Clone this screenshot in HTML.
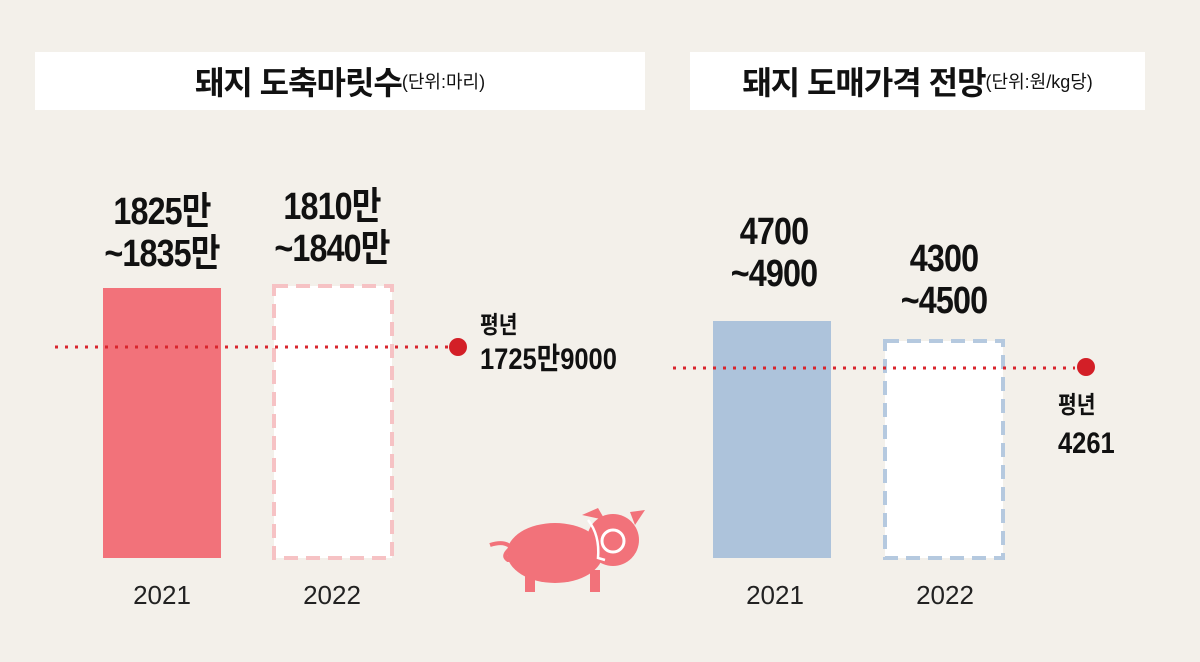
<!DOCTYPE html>
<html><head><meta charset="utf-8"><style>
body{margin:0;width:1200px;height:662px;background:#f3f0ea;position:relative;overflow:hidden;font-family:"Liberation Sans","Noto Sans CJK KR",sans-serif;color:#111}
.box{position:absolute;background:#fff;top:52px;height:58px;display:flex;align-items:center;justify-content:center;font-weight:bold;font-size:32px;letter-spacing:-1px}
.box small{font-weight:normal;font-size:18px;letter-spacing:0}
.t{position:absolute;text-align:center;font-size:38px;line-height:42px;font-weight:bold;letter-spacing:-1px;transform:scaleX(0.85)}
.y{position:absolute;font-size:26px;width:120px;text-align:center;color:#222}
.s{position:absolute;font-size:30px;line-height:36px;font-weight:bold;transform:scaleX(0.85);transform-origin:left}
</style></head><body>
<div class="box" style="left:35px;width:610px">돼지 도축마릿수<small>(단위:마리)</small></div>
<div class="box" style="left:690px;width:455px">돼지 도매가격 전망<small>(단위:원/kg당)</small></div>
<svg width="1200" height="662" style="position:absolute;left:0;top:0">
<rect x="103" y="288" width="118" height="270" fill="#f2727a"/>
<rect x="274" y="286" width="118" height="272" fill="#fff" stroke="#f6c2c4" stroke-width="4" stroke-dasharray="14,8"/>
<line x1="55" y1="347" x2="450" y2="347" stroke="#d9262e" stroke-width="3" stroke-dasharray="3,7"/>
<circle cx="458" cy="347" r="9" fill="#d31f27"/>
<rect x="713" y="321" width="118" height="237" fill="#adc3db"/>
<rect x="885" y="341" width="118" height="217" fill="#fff" stroke="#b5c9df" stroke-width="4" stroke-dasharray="14,8"/>
<line x1="673" y1="368" x2="1075" y2="368" stroke="#d9262e" stroke-width="3" stroke-dasharray="3,7"/>
<circle cx="1086" cy="367" r="9" fill="#d31f27"/>
<g fill="#f2727a">
<ellipse cx="555" cy="553" rx="48" ry="30"/>
<circle cx="613" cy="540" r="26"/>
<path d="M582 515 L598 508 L605 520 Z M630 512 L645 510 L635 525 Z"/>
<rect x="525" y="570" width="10" height="22"/><rect x="590" y="570" width="10" height="22"/>
</g>
<path d="M490 545 Q505 540 512 548 Q518 560 508 560 Q500 555 515 545" fill="none" stroke="#f2727a" stroke-width="4"/>
<circle cx="613" cy="541" r="11" fill="#f2727a" stroke="#fff" stroke-width="3"/>
<path d="M588 520 Q600 535 598 558 L605 560" fill="none" stroke="#fff" stroke-width="2.5"/>
</svg>
<div class="t" style="left:72px;width:180px;top:191px">1825만<br>~1835만</div>
<div class="t" style="left:242px;width:180px;top:186px">1810만<br>~1840만</div>
<div class="t" style="left:684px;width:180px;top:211px">4700<br>~4900</div>
<div class="t" style="left:854px;width:180px;top:238px">4300<br>~4500</div>
<div class="y" style="left:102px;top:580px">2021</div>
<div class="y" style="left:272px;top:580px">2022</div>
<div class="y" style="left:715px;top:580px">2021</div>
<div class="y" style="left:885px;top:580px">2022</div>
<div class="s" style="left:480px;top:308px;font-size:24px">평년</div>
<div class="s" style="left:480px;top:342px">1725만9000</div>
<div class="s" style="left:1058px;top:388px;font-size:24px">평년</div>
<div class="s" style="left:1058px;top:426px">4261</div>
</body></html>
